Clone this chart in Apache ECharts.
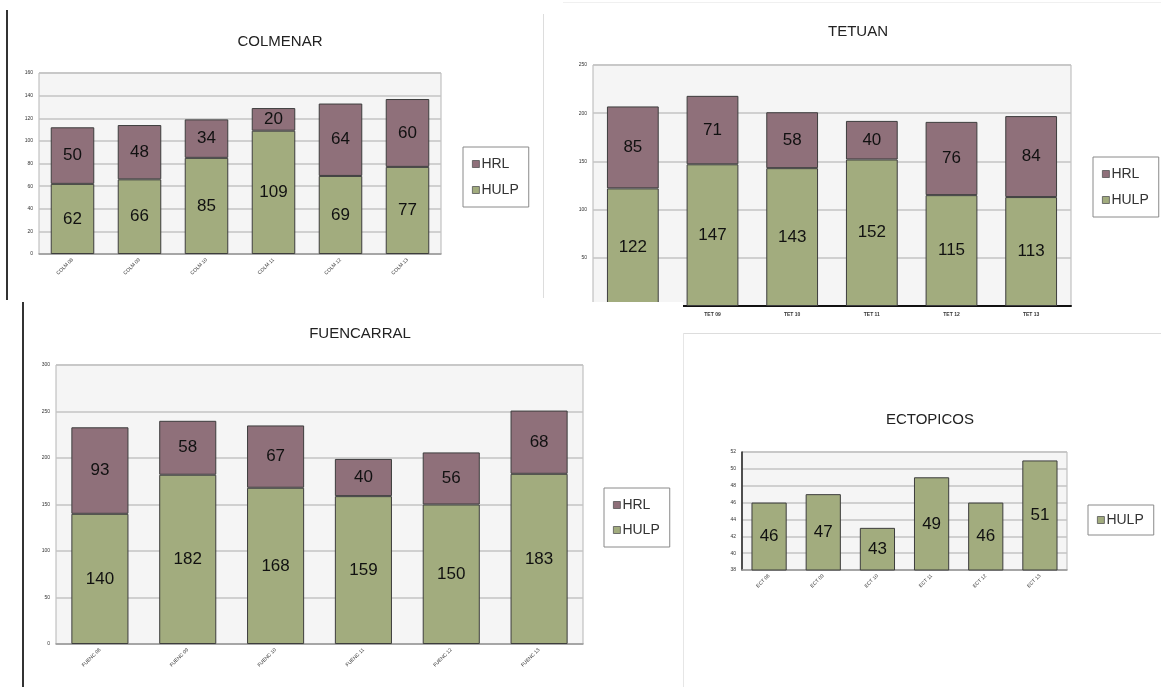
<!DOCTYPE html>
<html>
<head>
<meta charset="utf-8">
<script src="https://cdn.jsdelivr.net/npm/echarts@6/dist/echarts.min.js"></script>
<style>
  html, body { margin:0; padding:0; background:#fff; }
  body { width:1161px; height:687px; position:relative; overflow:hidden; font-family:"Liberation Sans", Arial, sans-serif; }
  .panel { position:absolute; }
  .ln { position:absolute; }
</style>
</head>
<body>
<div id="tet" class="panel" style="left:543px;top:0;width:618px;height:333px;z-index:1;"></div>
<div id="colm" class="panel" style="left:0;top:0;width:543px;height:300px;z-index:2;"></div>
<div id="ect" class="panel" style="left:683px;top:333px;width:478px;height:354px;z-index:2;"></div>
<div id="fuen" class="panel" style="left:0;top:302px;width:683px;height:385px;z-index:3;background:#fff;"></div>

<div class="ln" style="left:6px;top:10px;width:2px;height:290px;background:#333;z-index:5;"></div>
<div class="ln" style="left:543px;top:14px;width:1px;height:284px;background:#ddd;z-index:5;"></div>
<div class="ln" style="left:563px;top:2px;width:598px;height:1px;background:#f0f0f0;z-index:5;"></div>
<div class="ln" style="left:22px;top:302px;width:2px;height:385px;background:#333;z-index:5;"></div>
<div class="ln" style="left:683px;top:333px;width:478px;height:1px;background:#ddd;z-index:5;"></div>
<div class="ln" style="left:683px;top:333px;width:1px;height:354px;background:#e6e6e6;z-index:5;"></div>

<script>
// ---------- data ----------
var colmCats = ['COLM 08', 'COLM 09', 'COLM 10', 'COLM 11', 'COLM 12', 'COLM 13'];
var colmHULP = [62, 66, 85, 109, 69, 77];
var colmHRL  = [50, 48, 34, 20, 64, 60];

var tetCats = ['TET 08', 'TET 09', 'TET 10', 'TET 11', 'TET 12', 'TET 13'];
var tetHULP = [122, 147, 143, 152, 115, 113];
var tetHRL  = [85, 71, 58, 40, 76, 84];

var fuenCats = ['FUENC 08', 'FUENC 09', 'FUENC 10', 'FUENC 11', 'FUENC 12', 'FUENC 13'];
var fuenHULP = [140, 182, 168, 159, 150, 183];
var fuenHRL  = [93, 58, 67, 40, 56, 68];

var ectCats = ['ECT 08', 'ECT 09', 'ECT 10', 'ECT 11', 'ECT 12', 'ECT 13'];
var ectHULP = [46, 47, 43, 49, 46, 51];

var colmAxis = [0, 160, 20];
var tetAxis  = [0, 250, 50];
var fuenAxis = [0, 300, 50];
var ectAxis  = [38, 52, 2];

// ---------- style ----------
var FONT = '"Liberation Sans", Arial, sans-serif';
var GREEN = '#a2ac7e';
var MAUVE = '#8f707a';

function makeOption(c) {
  var series = [];
  var labelStyle = { show: true, position: 'inside', color: '#111', fontSize: c.labelSize, fontFamily: FONT };
  series.push({
    name: 'HULP', type: 'bar', stack: 's', data: c.hulp, barCategoryGap: '35%',
    itemStyle: { color: GREEN, borderColor: '#3d3d3d', borderWidth: 1 },
    label: labelStyle
  });
  if (c.hrl) {
    series.push({
      name: 'HRL', type: 'bar', stack: 's', data: c.hrl, barCategoryGap: '35%',
      itemStyle: { color: MAUVE, borderColor: '#3d3d3d', borderWidth: 1 },
      label: labelStyle
    });
  }
  return {
    animation: false,
    textStyle: { fontFamily: FONT },
    title: {
      text: c.title, left: c.titleX, top: c.titleY, textAlign: 'center',
      textStyle: { fontSize: 15, fontWeight: 'normal', color: '#222', fontFamily: FONT }
    },
    legend: {
      data: c.hrl ? ['HRL', 'HULP'] : ['HULP'],
      orient: 'vertical', left: c.legX, top: c.legY,
      icon: 'rect', itemWidth: 7, itemHeight: 7, itemGap: c.legGap,
      itemStyle: { borderColor: '#555', borderWidth: 0.8 },
      padding: c.legPad, borderColor: '#8a8a8a', borderWidth: 1,
      textStyle: { fontSize: 14, color: '#333', fontFamily: FONT, padding: [0, 0, 0, -3] }
    },
    grid: {
      left: c.grid[0], top: c.grid[1], width: c.grid[2], height: c.grid[3],
      show: true, backgroundColor: '#f5f5f5', borderColor: '#b5b5b5', borderWidth: 1
    },
    xAxis: {
      type: 'category', data: c.cats,
      axisLine: { show: true, lineStyle: { color: c.xLineColor, width: c.xLineWidth } },
      axisTick: { show: false },
      axisLabel: {
        interval: 0, rotate: c.rotate, fontSize: 5, color: '#333', margin: c.xMargin,
        fontWeight: c.rotate ? 'normal' : 'bold', fontFamily: FONT
      }
    },
    yAxis: {
      type: 'value', min: c.axis[0], max: c.axis[1], interval: c.axis[2],
      axisLine: { show: c.yLine, lineStyle: { color: '#222', width: 1.5 } },
      axisTick: { show: false },
      axisLabel: { fontSize: 5, color: '#333', margin: 6, fontFamily: FONT,
        formatter: function (v) { return (c.hideZero && v === 0) ? '' : v; } },
      splitLine: { show: true, lineStyle: { color: '#c3c3c3', width: 1.6 } }
    },
    series: series
  };
}

var charts = [
  ['colm', {
    title: 'COLMENAR', titleX: 275, titleY: 29, cats: colmCats, hulp: colmHULP, hrl: colmHRL,
    axis: colmAxis, grid: [39, 73, 402, 181], rotate: 45, xMargin: 5, labelSize: 17,
    xLineColor: '#9a9a9a', xLineWidth: 1.5, yLine: false,
    legX: 463, legY: 147, legGap: 12, legPad: [10, 10, 10, 9]
  }],
  ['tet', {
    title: 'TETUAN', titleX: 310, titleY: 19, cats: tetCats, hulp: tetHULP, hrl: tetHRL,
    axis: tetAxis, grid: [50, 65, 478, 241], rotate: 0, xMargin: 6, labelSize: 17,
    xLineColor: '#111', xLineWidth: 2, yLine: false, hideZero: true,
    legX: 550, legY: 157, legGap: 12, legPad: [10, 10, 10, 9]
  }],
  ['fuen', {
    title: 'FUENCARRAL', titleX: 355, titleY: 19, cats: fuenCats, hulp: fuenHULP, hrl: fuenHRL,
    axis: fuenAxis, grid: [56, 63, 527, 279], rotate: 45, xMargin: 5, labelSize: 17,
    xLineColor: '#9a9a9a', xLineWidth: 1.5, yLine: false,
    legX: 604, legY: 186, legGap: 11, legPad: [10, 10, 10, 9]
  }],
  ['ect', {
    title: 'ECTOPICOS', titleX: 242, titleY: 74, cats: ectCats, hulp: ectHULP, hrl: null,
    axis: ectAxis, grid: [59, 119, 325, 118], rotate: 45, xMargin: 5, labelSize: 17,
    xLineColor: '#9a9a9a', xLineWidth: 1.5, yLine: true,
    legX: 405, legY: 172, legGap: 10, legPad: [8, 10, 8, 9]
  }]
];

charts.forEach(function (p) {
  var ch = echarts.init(document.getElementById(p[0]), null, { renderer: 'canvas' });
  ch.setOption(makeOption(p[1]));
});
</script>
</body>
</html>
